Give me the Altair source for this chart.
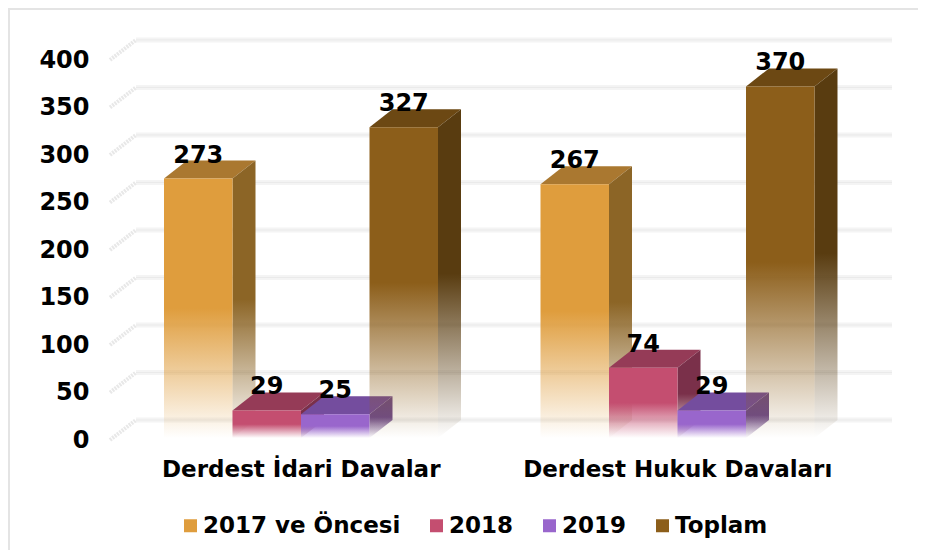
import altair as alt
import pandas as pd

categories = ["Derdest İdari Davalar", "Derdest Hukuk Davaları"]
series = ["2017 ve Öncesi", "2018", "2019", "Toplam"]
values = {
    "2017 ve Öncesi": [273, 267],
    "2018": [29, 74],
    "2019": [25, 29],
    "Toplam": [327, 370],
}
front_colors = ["#DF9D3D", "#C44E70", "#9966CC", "#8C5E1A"]
top_colors = ["#AA7830", "#953B57", "#744D9E", "#6C4813"]
side_colors = ["#8C6526", "#7A304A", "#6D4A8C", "#593C10"]
y_ticks = [0, 50, 100, 150, 200, 250, 300, 350, 400]

FONT = "DejaVu Sans"
FS = 24
PX = 376.5          # pixels per category
MARGIN = 51.5 / PX  # gap before first bar of a category
BAR_W = 68.5 / PX
BAR_DX = 23 / PX    # depth of a bar
BAR_DY = 18 / 0.95
BASE = 2 / 0.95     # bars sit slightly in front of the floor line
WALL_DX = 26 / PX
WALL_DY = 20 / 0.95
X_MIN = -2.5 / PX
X_MAX = 779.5 / PX
Y_MAX = 421

x_scale = alt.Scale(domain=[X_MIN, X_MAX], nice=False, zero=False)
y_scale = alt.Scale(domain=[0, Y_MAX], nice=False, zero=False)


def fade(color, mid=0.5, alpha=0.0):
    r, g, b = int(color[1:3], 16), int(color[3:5], 16), int(color[5:7], 16)
    return alt.Gradient(
        gradient="linear", x1=0, y1=0, x2=0, y2=1,
        stops=[
            alt.GradientStop(offset=0, color=color),
            alt.GradientStop(offset=mid, color=color),
            alt.GradientStop(offset=1, color=f"rgba({r},{g},{b},{alpha})"),
        ],
    )


front_rows, side_rows, top_rows, label_rows = [], [], [], []
for s_i, s in enumerate(series):
    for c_i, c in enumerate(categories):
        v = values[s][c_i] + BASE
        x0 = c_i + MARGIN + s_i * BAR_W
        x1 = x0 + BAR_W
        front_rows.append(dict(series=s, cat=c, x=x0, x2=x1, y=v, y2=BASE))
        side_rows += [
            dict(series=s, cat=c, x=x1, y=v, y2=BASE),
            dict(series=s, cat=c, x=x1 + BAR_DX, y=v + BAR_DY, y2=BASE + BAR_DY),
        ]
        top_rows += [
            dict(series=s, cat=c, x=x0, y=v, y2=v),
            dict(series=s, cat=c, x=x0 + BAR_DX, y=v + BAR_DY, y2=v),
            dict(series=s, cat=c, x=x1, y=v + BAR_DY, y2=v),
            dict(series=s, cat=c, x=x1 + BAR_DX, y=v + BAR_DY, y2=v + BAR_DY),
        ]
        label_rows.append(dict(x=(x0 + x1) / 2, y=v + BAR_DY, label=values[s][c_i]))

front = pd.DataFrame(front_rows)
side = pd.DataFrame(side_rows)
top = pd.DataFrame(top_rows)
labels = pd.DataFrame(label_rows)

X = lambda **k: alt.X("x:Q", scale=x_scale, **k)
Y = lambda **k: alt.Y("y:Q", scale=y_scale, stack=None, **k)

grid_back = pd.DataFrame(
    [dict(y=t + WALL_DY, x=WALL_DX + X_MIN, x2=X_MAX) for t in y_ticks]
)
grid_diag = pd.DataFrame(
    [dict(t=t, x=X_MIN, y=t) for t in y_ticks]
    + [dict(t=t, x=X_MIN + WALL_DX, y=t + WALL_DY) for t in y_ticks]
)

label_expr = f"datum.value < 1 ? '{categories[0]}' : '{categories[1]}'"

axes = (
    alt.Chart(pd.DataFrame({"x": [0.5, 1.5], "y": [0, 400]}))
    .mark_point(opacity=0)
    .encode(
        x=X(
            axis=alt.Axis(
                values=[0.5, 1.5], labelExpr=label_expr, title=None, grid=False,
                domain=False, ticks=False, labelFont=FONT, labelFontWeight="bold",
                labelFontSize=FS - 1, labelColor="#000000", labelPadding=18,
                labelAngle=0, labelLimit=500,
            )
        ),
        y=Y(
            axis=alt.Axis(
                values=y_ticks, title=None, grid=False, domain=False, ticks=False,
                labelFont=FONT, labelFontWeight="bold", labelFontSize=FS,
                labelColor="#000000", labelPadding=21, labelOffset=0.5,
            )
        ),
    )
)

frame = alt.Chart(pd.DataFrame({"a": [0]})).mark_rule(color="#E4E4E4", strokeWidth=2)
frame_left = frame.encode(x=alt.value(-101), y=alt.value(-31), y2=alt.value(520))
frame_top = frame.encode(x=alt.value(-102), x2=alt.value(820), y=alt.value(-31))

grid_a = alt.Chart(grid_back).mark_rule(color="#F4F4F4", strokeWidth=5).encode(
    x=X(), x2="x2:Q", y=Y()
)
grid_b = alt.Chart(grid_back).mark_rule(color="#EAEAEA", strokeWidth=1).encode(
    x=X(), x2="x2:Q", y=Y()
)
diag = alt.Chart(grid_diag).mark_line(
    color="#E8E8E8", strokeWidth=4, strokeDash=[2, 1]
).encode(x=X(), y=Y(), detail="t:N")

layers = [frame_left, frame_top, axes, grid_a, grid_b, diag]

for s, fc, tc, sc in zip(series, front_colors, top_colors, side_colors):
    layers.append(
        alt.Chart(top[top.series == s]).mark_area(color=tc).encode(
            x=X(), y=Y(), y2="y2:Q", detail="cat:N"
        )
    )
    layers.append(
        alt.Chart(side[side.series == s]).mark_area(color=fade(sc)).encode(
            x=X(), y=Y(), y2="y2:Q", detail="cat:N"
        )
    )
    layers.append(
        alt.Chart(front[front.series == s]).mark_rect(color=fade(fc)).encode(
            x=X(), x2="x2:Q", y=Y(), y2="y2:Q"
        )
    )

text = alt.Chart(labels).mark_text(
    font=FONT, fontWeight="bold", fontSize=FS, color="#000000",
    baseline="alphabetic", align="center", dy=2,
).encode(x=X(), y=Y(), text="label:N")
layers.append(text)

legend_df = pd.DataFrame({"series": series, "x": [0.0] * 4, "y": [0.0] * 4})
legend_layer = alt.Chart(legend_df).mark_square(size=1, opacity=0.001).encode(
    x=X(),
    y=Y(),
    color=alt.Color(
        "series:N",
        sort=series,
        scale=alt.Scale(domain=series, range=front_colors),
        legend=alt.Legend(
            title=None, orient="none", direction="horizontal", columns=4,
            legendX=69, legendY=474, symbolType="square", symbolSize=169,
            symbolOpacity=1, labelFont=FONT, labelFontWeight="bold", labelFontSize=FS - 1,
            labelColor="#000000", labelOffset=1, columnPadding=24, labelLimit=300,
        ),
    ),
)
layers.append(legend_layer)

chart = (
    alt.layer(*layers)
    .properties(
        width=782,
        height=400,
        autosize="none",
        padding={"left": 102, "top": 32, "right": 26, "bottom": 110},
        background="#FFFFFF",
    )
    .configure_view(stroke=None)
)

chart.save("out.html", embed_options={"renderer": "svg", "actions": False})
